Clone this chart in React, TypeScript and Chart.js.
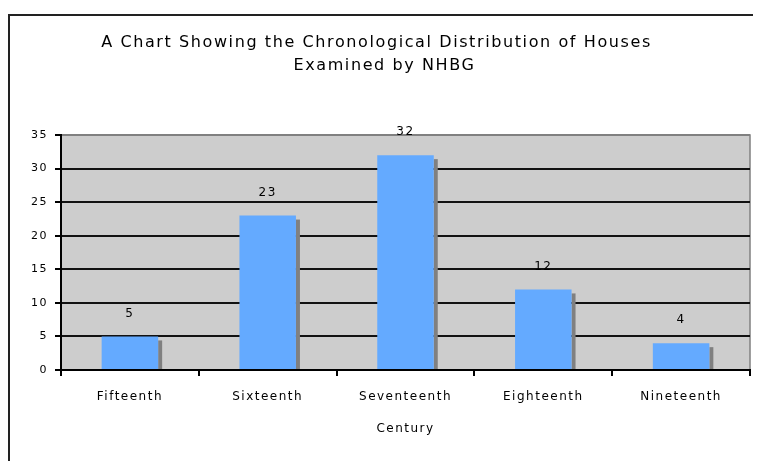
import React, { useEffect, useRef } from "react";
import { Chart, registerables } from "chart.js";

Chart.register(...registerables);

const categories = ["Fifteenth", "Sixteenth", "Seventeenth", "Eighteenth", "Nineteenth"];
const houseCounts = [5, 23, 32, 12, 4];
const yTicks = [0, 5, 10, 15, 20, 25, 30, 35];
const titleLines = ["A Chart Showing the Chronological Distribution of Houses", "Examined by NHBG"];
const xAxisTitle = "Century";

const FONT = "'DejaVu Sans', sans-serif";

const framePlugin = {
  id: "frame",
  beforeDraw(chart: any) {
    const { ctx, chartArea: a, width, height } = chart;
    ctx.save();
    ctx.fillStyle = "#ffffff";
    ctx.fillRect(0, 0, width, height);
    // outer frame (top & left visible)
    ctx.strokeStyle = "#222222";
    ctx.lineWidth = 2;
    ctx.beginPath();
    ctx.moveTo(1, height + 2);
    ctx.lineTo(1, 7);
    ctx.lineTo(width + 2, 7);
    ctx.stroke();
    // plot area background
    ctx.fillStyle = "#cdcdcd";
    ctx.fillRect(a.left, a.top, a.right - a.left, a.bottom - a.top);
    ctx.strokeStyle = "#808080";
    ctx.lineWidth = 1.5;
    ctx.strokeRect(a.left, a.top, a.right - a.left, a.bottom - a.top);
    ctx.restore();
    // wider letter spacing for all axis text, like the original rendering
    (ctx as any).letterSpacing = "1.5px";
  },
  afterDraw(chart: any) {
    const { ctx, width } = chart;
    ctx.save();
    ctx.fillStyle = "#000000";
    ctx.font = `16px ${FONT}`;
    (ctx as any).letterSpacing = "1.6px";
    ctx.textAlign = "center";
    ctx.textBaseline = "middle";
    const cx = width / 2 - 8;
    titleLines.forEach((t, i) => ctx.fillText(t, cx + i * 8, 35 + i * 23));
    ctx.restore();
    (ctx as any).letterSpacing = "0px";
  },
};

const shadowPlugin = {
  id: "barShadow",
  beforeDatasetsDraw(chart: any) {
    const { ctx } = chart;
    const meta = chart.getDatasetMeta(0);
    ctx.save();
    ctx.fillStyle = "#808080";
    meta.data.forEach((bar: any) => {
      const p = bar.getProps(["x", "y", "base", "width"], true);
      ctx.fillRect(p.x + p.width / 2, p.y + 4, 4, p.base - p.y - 4);
    });
    ctx.restore();
  },
  afterDatasetsDraw(chart: any) {
    const { ctx } = chart;
    const meta = chart.getDatasetMeta(0);
    ctx.save();
    ctx.fillStyle = "#000000";
    ctx.font = `12px ${FONT}`;
    ctx.textAlign = "center";
    ctx.textBaseline = "middle";
    meta.data.forEach((bar: any, i: number) => {
      const p = bar.getProps(["x", "y"], true);
      ctx.fillText(String(houseCounts[i]), p.x, p.y - 23);
    });
    ctx.restore();
  },
};

export default function App() {
  const ref = useRef<HTMLCanvasElement>(null);
  useEffect(() => {
    if (!ref.current) return;
    const chart = new Chart(ref.current, {
      type: "bar",
      data: {
        labels: categories,
        datasets: [
          {
            data: houseCounts,
            backgroundColor: "#64aaff",
            borderWidth: 0,
            barPercentage: 0.41,
            categoryPercentage: 1,
          },
        ],
      },
      options: {
        animation: false,
        responsive: false,
        layout: { padding: { top: 127, left: 0, right: 11, bottom: 21 } },
        plugins: { legend: { display: false }, tooltip: { enabled: false }, title: { display: false } },
        scales: {
          x: {
            offset: true,
            grid: { drawOnChartArea: false, drawTicks: true, tickLength: 6, color: "#000", lineWidth: 2, offset: true },
            border: { display: true, color: "#000", width: 2 },
            ticks: { color: "#000", font: { family: FONT, size: 12 }, padding: 14, maxRotation: 0 },
            title: { display: true, text: xAxisTitle, color: "#000", font: { family: FONT, size: 12 }, padding: { top: 4, bottom: 4 } },
            afterFit(scale: any) {
              scale.height = 70;
            },
          },
          y: {
            min: 0,
            max: 35,
            afterBuildTicks(scale: any) {
              scale.ticks = yTicks.map((v) => ({ value: v }));
            },
            grid: {
              color: (c: any) => (c.tick && c.tick.value === 35 ? "#808080" : "#111"),
              lineWidth: 2,
              tickLength: 6,
              tickColor: "#000",
            },
            border: { display: true, color: "#000", width: 2 },
            ticks: { color: "#000", font: { family: FONT, size: 11 }, padding: 7 },
            afterFit(scale: any) {
              scale.width = 53;
            },
          },
        },
      },
      plugins: [framePlugin, shadowPlugin],
    });
    return () => chart.destroy();
  }, []);
  return <canvas ref={ref} width={753} height={453} style={{ display: "block" }} />;
}
